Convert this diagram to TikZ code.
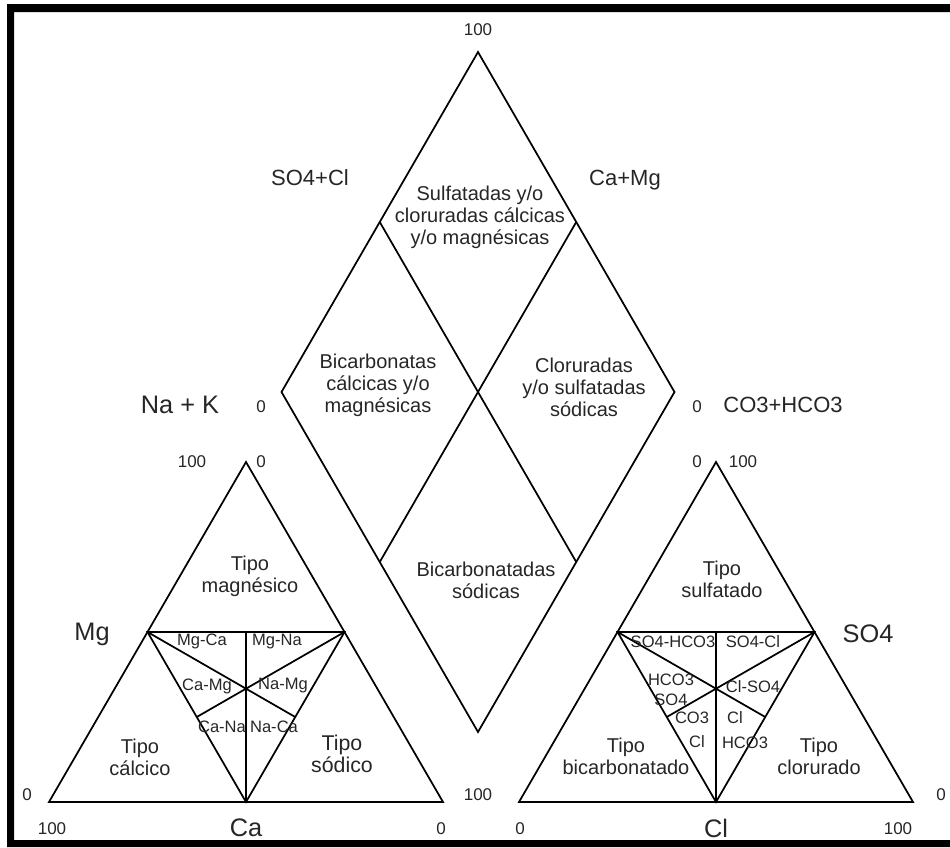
\documentclass[tikz,border=0pt]{standalone}
\usepackage{fontspec}
\setmainfont{Liberation Sans}
\usetikzlibrary{calc}
\begin{document}
\begin{tikzpicture}[x=0.75pt,y=-0.75pt,line join=miter,
	linea/.style={line width=1.3pt},
	zona/.style={font=\fontsize{15}{16.5}\selectfont,align=center,inner sep=0pt,text=black!85},
	tipo/.style={font=\fontsize{15}{16.5}\selectfont,align=center,inner sep=0pt,text=black!85},
	sub/.style={font=\fontsize{12.4}{13.5}\selectfont,inner sep=0pt,text=black!85},
	num/.style={font=\fontsize{12.75}{14}\selectfont,inner sep=0pt,text=black!85},
	eje/.style={font=\fontsize{16.5}{18}\selectfont,inner sep=0pt,text=black!85},
	ion/.style={font=\fontsize{19}{20}\selectfont,inner sep=0pt,text=black!85}]
	\useasboundingbox (0,0) rectangle (950,847);
	\fill (7,4) rectangle (950,12) (7,4) rectangle (14,847) (7,840) rectangle (950,847);
	% rombo
	\coordinate (rT) at (478,52);
	\coordinate (rL) at (281.5,392);
	\coordinate (rR) at (674.5,392);
	\coordinate (rB) at (478,732);
	\draw[linea] (rT)--(rR)--(rB)--(rL)--cycle;
	\draw[linea] ($(rT)!.5!(rL)$)--($(rB)!.5!(rR)$);
	\draw[linea] ($(rT)!.5!(rR)$)--($(rB)!.5!(rL)$);
	% triangulo cationes
	\coordinate (cT) at (246,462);
	\coordinate (cL) at (49,802);
	\coordinate (cR) at (443,802);
	\coordinate (cM1) at ($(cT)!.5!(cL)$);
	\coordinate (cM2) at ($(cT)!.5!(cR)$);
	\coordinate (cB) at ($(cL)!.5!(cR)$);
	\coordinate (cC) at ($(cM1)!.5!(cM2)$);
	\draw[linea] (cT)--(cR)--(cL)--cycle;
	\draw[linea] (cM1)--(cM2)--(cB)--cycle (cC)--(cB);
	\draw[linea] (cM1)--($(cM2)!.5!(cB)$) (cM2)--($(cM1)!.5!(cB)$);
	% triangulo aniones
	\coordinate (aT) at (716,462);
	\coordinate (aL) at (519,802);
	\coordinate (aR) at (913,802);
	\coordinate (aM1) at ($(aT)!.5!(aL)$);
	\coordinate (aM2) at ($(aT)!.5!(aR)$);
	\coordinate (aB) at ($(aL)!.5!(aR)$);
	\coordinate (aC) at ($(aM1)!.5!(aM2)$);
	\draw[linea] (aT)--(aR)--(aL)--cycle;
	\draw[linea] (aM1)--(aM2)--(aB)--cycle (aC)--(aB);
	\draw[linea] (aM1)--($(aM2)!.5!(aB)$) (aM2)--($(aM1)!.5!(aB)$);
	% textos rombo
	\node[num] (r100) at (478,30) {100};
	\node[eje] (so4cl) at (310,178) {SO4+Cl};
	\node[eje] (camg) at (625,180) {Ca+Mg};
	\node[zona] (zsulf) at (480,217) {Sulfatadas y/o\\cloruradas cálcicas\\y/o magnésicas};
	\node[zona] (zbica) at (378,385) {Bicarbonatas\\cálcicas y/o\\magnésicas};
	\node[zona] (zclor) at (584,387) {Cloruradas\\y/o sulfatadas\\sódicas};
	\node[zona] (zbisod) at (486,580) {Bicarbonatadas\\sódicas};
	\node[ion] (nak) at (180,405) {Na + K};
	\node[num] (rL0) at (261,407) {0};
	\node[num] (rR0) at (697,407) {0};
	\node[eje] (hco3) at (783,405) {CO3+HCO3};
	% textos cationes
	\node[num] (cT100) at (192,462) {100};
	\node[num] (cT0) at (261,462) {0};
	\node[tipo] (tmg) at (250,576) {Tipo\\magnésico};
	\node[ion] (mg) at (92,634) {Mg};
	\node[sub] (mgca) at (202,641) {Mg-Ca};
	\node[sub] (mgna) at (277,642) {Mg-Na};
	\node[sub] (camg2) at (207,686) {Ca-Mg};
	\node[sub] (namg) at (283,686) {Na-Mg};
	\node[sub] (cana) at (222,727) {Ca-Na};
	\node[sub] (naca) at (274,727) {Na-Ca};
	\node[tipo] (tca) at (140,757) {Tipo\\cálcico};
	\node[tipo,font=\fontsize{16}{17}\selectfont] (tna) at (342,754) {Tipo\\sódico};
	\node[num] (cL0) at (27,795) {0};
	\node[num] (cL100) at (52,829) {100};
	\node[ion] (ca) at (246,828) {Ca};
	\node[num] (cR0) at (441,829) {0};
	% textos aniones
	\node[num] (aT0) at (697,462) {0};
	\node[num] (aT100) at (743,462) {100};
	\node[tipo] (tso4) at (722,579) {Tipo\\sulfatado};
	\node[ion] (so4) at (868,634) {SO4};
	\node[sub] (so4hco3) at (673,642) {SO4-HCO3};
	\node[sub] (so4cl2) at (753,642) {SO4-Cl};
	\node[sub,align=center,font=\fontsize{12.4}{15}\selectfont] (hco3so4) at (671,690) {HCO3\\SO4};
	\node[sub] (clso4) at (753,687) {Cl-SO4};
	\node[sub] (co3) at (692,718) {CO3};
	\node[sub] (cl1) at (697,742) {Cl};
	\node[sub] (cl2) at (735,718) {Cl};
	\node[sub] (hco3b) at (745,743) {HCO3};
	\node[tipo] (tbic) at (626,756) {Tipo\\bicarbonatado};
	\node[tipo] (tcl) at (819,756) {Tipo\\clorurado};
	\node[num] (aL100) at (478,795) {100};
	\node[num] (aL0) at (520,829) {0};
	\node[ion] (cl) at (716,828) {Cl};
	\node[num] (aR100) at (898,829) {100};
	\node[num] (aR0) at (941,795) {0};
\end{tikzpicture}
\end{document}
